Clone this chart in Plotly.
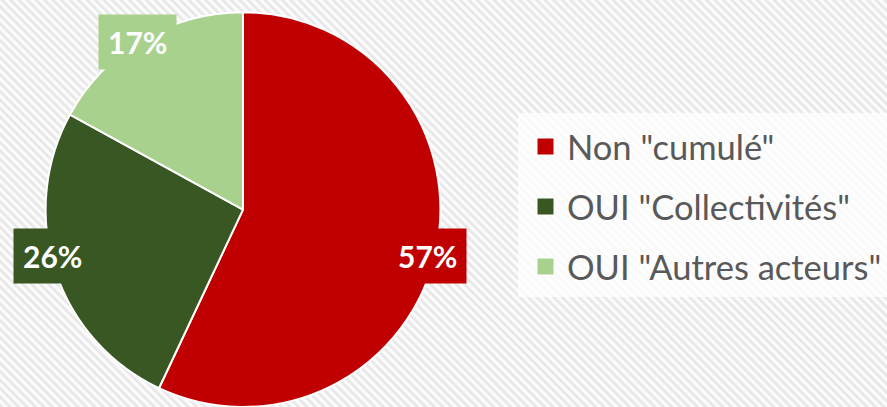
import base64
import plotly.graph_objects as go

labels = ['Non "cumulé"', 'OUI "Collectivités"', 'OUI "Autres acteurs"']
values = [57, 26, 17]
colors = ["#C00000", "#385723", "#A9D18E"]

W, H = 887, 407

# striped background (svg pattern embedded as data uri)
svg = f"""<svg xmlns='http://www.w3.org/2000/svg' width='{W}' height='{H}'>
<defs><pattern id='p' width='6' height='6' patternUnits='userSpaceOnUse' patternTransform='rotate(-45)'>
<rect width='6' height='6' fill='#fcfcfc'/><rect width='2.8' height='6' fill='#e8e8e8'/></pattern></defs>
<rect width='{W}' height='{H}' fill='url(#p)'/></svg>"""
bg_src = "data:image/svg+xml;base64," + base64.b64encode(svg.encode()).decode()

def px(x):
    return x / W

def py(y):
    return 1 - y / H

fig = go.Figure(
    go.Pie(
        labels=labels,
        values=values,
        sort=False,
        direction="clockwise",
        rotation=0,
        marker=dict(colors=colors, line=dict(color="white", width=2)),
        textinfo="none",
        hovertemplate="%{label}: %{percent}<extra></extra>",
        domain=dict(x=[px(45), px(441)], y=[0, 0.97]),
        showlegend=False,
    )
)

# percentage labels with coloured boxes (Excel style)
label_pos = [(427, 256), (52, 256), (137, 42)]
total = sum(values)
annotations = []
for v, c, (lx, ly) in zip(values, colors, label_pos):
    annotations.append(dict(
        x=px(lx), y=py(ly), xref="paper", yref="paper",
        xanchor="center", yanchor="middle",
        text=f"<b>{round(100 * v / total)}%</b>",
        showarrow=False, bgcolor=c, borderpad=9,
        font=dict(family="Lato", size=30, color="white"),
    ))

# manual legend
shapes = [dict(type="rect", xref="paper", yref="paper",
               x0=px(518), x1=1, y0=py(297), y1=py(113),
               fillcolor="rgba(255,255,255,0.75)", line=dict(width=0), layer="below")]
for i, (lab, c) in enumerate(zip(labels, colors)):
    cy = 146.5 + 60 * i
    shapes.append(dict(type="rect", xref="paper", yref="paper",
                       x0=px(537), x1=px(554), y0=py(cy + 8.5), y1=py(cy - 8.5),
                       fillcolor=c, line=dict(color="white", width=1)))
    annotations.append(dict(
        x=px(565), y=py(cy), xref="paper", yref="paper",
        xanchor="left", yanchor="middle", text=lab, showarrow=False,
        font=dict(family="Lato", size=34.5, color="#595959"),
    ))

fig.update_layout(
    width=W, height=H,
    margin=dict(l=0, r=0, t=0, b=0),
    paper_bgcolor="white",
    images=[dict(source=bg_src, xref="paper", yref="paper", x=0, y=1,
                 sizex=1, sizey=1, sizing="stretch", layer="below",
                 xanchor="left", yanchor="top")],
    shapes=shapes,
    annotations=annotations,
)

fig.write_html("out.html", config={"displaylogo": False, "displayModeBar": False},
               post_script="document.body.style.margin='0';")
